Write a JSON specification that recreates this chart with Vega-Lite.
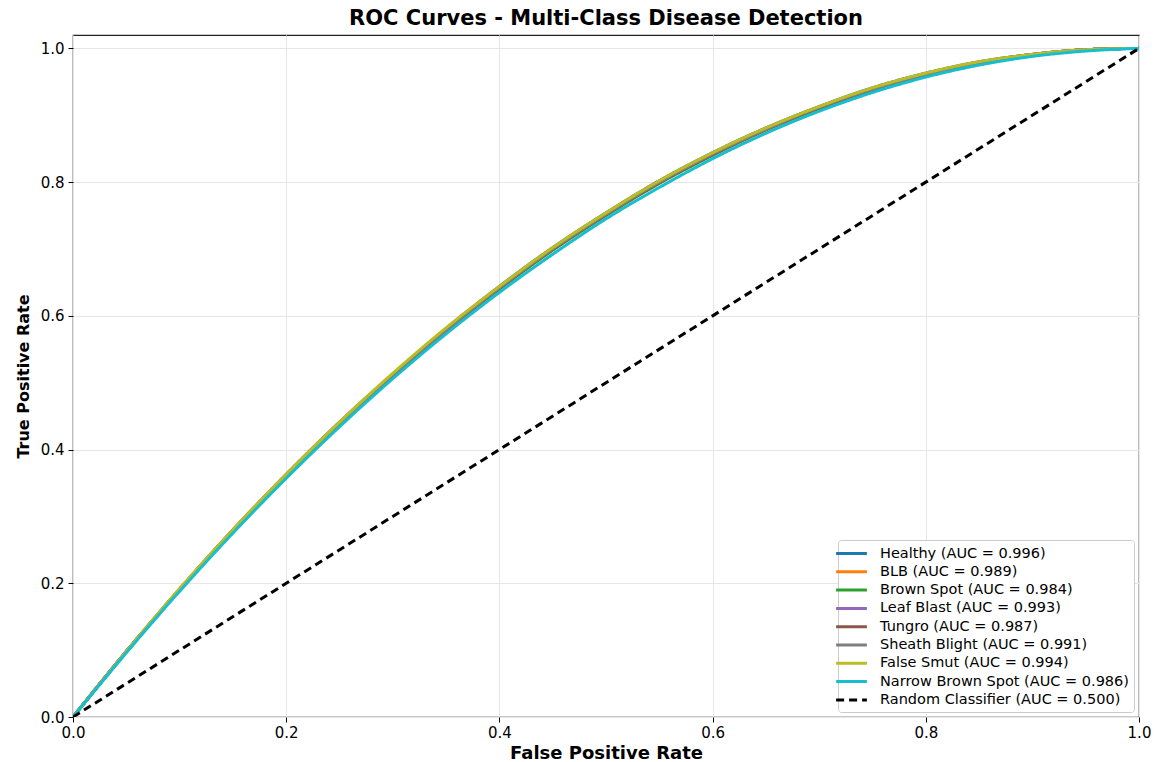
{
  "$schema": "https://vega.github.io/schema/vega-lite/v6.json",
  "width": 1066,
  "height": 682,
  "autosize": {"type": "none"},
  "padding": {"left": 73, "top": 35, "right": 16, "bottom": 45},
  "background": "white",
  "config": {
    "font": "DejaVu Sans",
    "view": {"stroke": "#222", "strokeWidth": 1.2}
  },
  "title": {"text": "ROC Curves - Multi-Class Disease Detection", "fontSize": 21, "fontWeight": "bold", "font": "DejaVu Sans", "color": "#000", "anchor": "middle", "offset": 6},
  "data": {"values": [
    {"s":"Healthy","x":0,"y":0},{"s":"Healthy","x":0.05,"y":0.098},{"s":"Healthy","x":0.1,"y":0.191},{"s":"Healthy","x":0.15,"y":0.280},{"s":"Healthy","x":0.2,"y":0.363},{"s":"Healthy","x":0.25,"y":0.441},{"s":"Healthy","x":0.3,"y":0.513},{"s":"Healthy","x":0.35,"y":0.581},{"s":"Healthy","x":0.4,"y":0.644},{"s":"Healthy","x":0.45,"y":0.702},{"s":"Healthy","x":0.5,"y":0.754},{"s":"Healthy","x":0.55,"y":0.802},{"s":"Healthy","x":0.6,"y":0.844},{"s":"Healthy","x":0.65,"y":0.881},{"s":"Healthy","x":0.7,"y":0.913},{"s":"Healthy","x":0.75,"y":0.941},{"s":"Healthy","x":0.8,"y":0.963},{"s":"Healthy","x":0.85,"y":0.980},{"s":"Healthy","x":0.9,"y":0.991},{"s":"Healthy","x":0.95,"y":0.998},{"s":"Healthy","x":1,"y":1},
    {"s":"BLB","x":0,"y":0},{"s":"BLB","x":0.05,"y":0.098},{"s":"BLB","x":0.1,"y":0.191},{"s":"BLB","x":0.15,"y":0.279},{"s":"BLB","x":0.2,"y":0.361},{"s":"BLB","x":0.25,"y":0.439},{"s":"BLB","x":0.3,"y":0.512},{"s":"BLB","x":0.35,"y":0.579},{"s":"BLB","x":0.4,"y":0.642},{"s":"BLB","x":0.45,"y":0.700},{"s":"BLB","x":0.5,"y":0.752},{"s":"BLB","x":0.55,"y":0.800},{"s":"BLB","x":0.6,"y":0.842},{"s":"BLB","x":0.65,"y":0.879},{"s":"BLB","x":0.7,"y":0.912},{"s":"BLB","x":0.75,"y":0.939},{"s":"BLB","x":0.8,"y":0.961},{"s":"BLB","x":0.85,"y":0.979},{"s":"BLB","x":0.9,"y":0.991},{"s":"BLB","x":0.95,"y":0.998},{"s":"BLB","x":1,"y":1},
    {"s":"Brown Spot","x":0,"y":0},{"s":"Brown Spot","x":0.05,"y":0.097},{"s":"Brown Spot","x":0.1,"y":0.190},{"s":"Brown Spot","x":0.15,"y":0.277},{"s":"Brown Spot","x":0.2,"y":0.360},{"s":"Brown Spot","x":0.25,"y":0.438},{"s":"Brown Spot","x":0.3,"y":0.510},{"s":"Brown Spot","x":0.35,"y":0.578},{"s":"Brown Spot","x":0.4,"y":0.640},{"s":"Brown Spot","x":0.45,"y":0.698},{"s":"Brown Spot","x":0.5,"y":0.750},{"s":"Brown Spot","x":0.55,"y":0.798},{"s":"Brown Spot","x":0.6,"y":0.840},{"s":"Brown Spot","x":0.65,"y":0.878},{"s":"Brown Spot","x":0.7,"y":0.910},{"s":"Brown Spot","x":0.75,"y":0.938},{"s":"Brown Spot","x":0.8,"y":0.960},{"s":"Brown Spot","x":0.85,"y":0.978},{"s":"Brown Spot","x":0.9,"y":0.990},{"s":"Brown Spot","x":0.95,"y":0.998},{"s":"Brown Spot","x":1,"y":1},
    {"s":"Leaf Blast","x":0,"y":0},{"s":"Leaf Blast","x":0.05,"y":0.098},{"s":"Leaf Blast","x":0.1,"y":0.191},{"s":"Leaf Blast","x":0.15,"y":0.279},{"s":"Leaf Blast","x":0.2,"y":0.362},{"s":"Leaf Blast","x":0.25,"y":0.440},{"s":"Leaf Blast","x":0.3,"y":0.512},{"s":"Leaf Blast","x":0.35,"y":0.580},{"s":"Leaf Blast","x":0.4,"y":0.643},{"s":"Leaf Blast","x":0.45,"y":0.701},{"s":"Leaf Blast","x":0.5,"y":0.753},{"s":"Leaf Blast","x":0.55,"y":0.801},{"s":"Leaf Blast","x":0.6,"y":0.843},{"s":"Leaf Blast","x":0.65,"y":0.880},{"s":"Leaf Blast","x":0.7,"y":0.912},{"s":"Leaf Blast","x":0.75,"y":0.939},{"s":"Leaf Blast","x":0.8,"y":0.962},{"s":"Leaf Blast","x":0.85,"y":0.979},{"s":"Leaf Blast","x":0.9,"y":0.991},{"s":"Leaf Blast","x":0.95,"y":0.998},{"s":"Leaf Blast","x":1,"y":1},
    {"s":"Tungro","x":0,"y":0},{"s":"Tungro","x":0.05,"y":0.098},{"s":"Tungro","x":0.1,"y":0.190},{"s":"Tungro","x":0.15,"y":0.278},{"s":"Tungro","x":0.2,"y":0.361},{"s":"Tungro","x":0.25,"y":0.438},{"s":"Tungro","x":0.3,"y":0.511},{"s":"Tungro","x":0.35,"y":0.578},{"s":"Tungro","x":0.4,"y":0.641},{"s":"Tungro","x":0.45,"y":0.699},{"s":"Tungro","x":0.5,"y":0.751},{"s":"Tungro","x":0.55,"y":0.799},{"s":"Tungro","x":0.6,"y":0.841},{"s":"Tungro","x":0.65,"y":0.878},{"s":"Tungro","x":0.7,"y":0.911},{"s":"Tungro","x":0.75,"y":0.938},{"s":"Tungro","x":0.8,"y":0.961},{"s":"Tungro","x":0.85,"y":0.978},{"s":"Tungro","x":0.9,"y":0.990},{"s":"Tungro","x":0.95,"y":0.998},{"s":"Tungro","x":1,"y":1},
    {"s":"Sheath Blight","x":0,"y":0},{"s":"Sheath Blight","x":0.05,"y":0.098},{"s":"Sheath Blight","x":0.1,"y":0.191},{"s":"Sheath Blight","x":0.15,"y":0.279},{"s":"Sheath Blight","x":0.2,"y":0.361},{"s":"Sheath Blight","x":0.25,"y":0.439},{"s":"Sheath Blight","x":0.3,"y":0.512},{"s":"Sheath Blight","x":0.35,"y":0.579},{"s":"Sheath Blight","x":0.4,"y":0.642},{"s":"Sheath Blight","x":0.45,"y":0.700},{"s":"Sheath Blight","x":0.5,"y":0.752},{"s":"Sheath Blight","x":0.55,"y":0.800},{"s":"Sheath Blight","x":0.6,"y":0.842},{"s":"Sheath Blight","x":0.65,"y":0.879},{"s":"Sheath Blight","x":0.7,"y":0.912},{"s":"Sheath Blight","x":0.75,"y":0.939},{"s":"Sheath Blight","x":0.8,"y":0.961},{"s":"Sheath Blight","x":0.85,"y":0.979},{"s":"Sheath Blight","x":0.9,"y":0.991},{"s":"Sheath Blight","x":0.95,"y":0.998},{"s":"Sheath Blight","x":1,"y":1},
    {"s":"False Smut","x":0,"y":0},{"s":"False Smut","x":0.05,"y":0.098},{"s":"False Smut","x":0.1,"y":0.192},{"s":"False Smut","x":0.15,"y":0.280},{"s":"False Smut","x":0.2,"y":0.363},{"s":"False Smut","x":0.25,"y":0.441},{"s":"False Smut","x":0.3,"y":0.514},{"s":"False Smut","x":0.35,"y":0.582},{"s":"False Smut","x":0.4,"y":0.644},{"s":"False Smut","x":0.45,"y":0.702},{"s":"False Smut","x":0.5,"y":0.754},{"s":"False Smut","x":0.55,"y":0.802},{"s":"False Smut","x":0.6,"y":0.844},{"s":"False Smut","x":0.65,"y":0.881},{"s":"False Smut","x":0.7,"y":0.913},{"s":"False Smut","x":0.75,"y":0.941},{"s":"False Smut","x":0.8,"y":0.963},{"s":"False Smut","x":0.85,"y":0.980},{"s":"False Smut","x":0.9,"y":0.991},{"s":"False Smut","x":0.95,"y":0.998},{"s":"False Smut","x":1,"y":1},
    {"s":"Narrow Brown Spot","x":0,"y":0},{"s":"Narrow Brown Spot","x":0.05,"y":0.096},{"s":"Narrow Brown Spot","x":0.1,"y":0.188},{"s":"Narrow Brown Spot","x":0.15,"y":0.275},{"s":"Narrow Brown Spot","x":0.2,"y":0.357},{"s":"Narrow Brown Spot","x":0.25,"y":0.434},{"s":"Narrow Brown Spot","x":0.3,"y":0.506},{"s":"Narrow Brown Spot","x":0.35,"y":0.573},{"s":"Narrow Brown Spot","x":0.4,"y":0.635},{"s":"Narrow Brown Spot","x":0.45,"y":0.692},{"s":"Narrow Brown Spot","x":0.5,"y":0.745},{"s":"Narrow Brown Spot","x":0.55,"y":0.792},{"s":"Narrow Brown Spot","x":0.6,"y":0.835},{"s":"Narrow Brown Spot","x":0.65,"y":0.873},{"s":"Narrow Brown Spot","x":0.7,"y":0.906},{"s":"Narrow Brown Spot","x":0.75,"y":0.934},{"s":"Narrow Brown Spot","x":0.8,"y":0.957},{"s":"Narrow Brown Spot","x":0.85,"y":0.975},{"s":"Narrow Brown Spot","x":0.9,"y":0.988},{"s":"Narrow Brown Spot","x":0.95,"y":0.996},{"s":"Narrow Brown Spot","x":1,"y":1},
    {"s":"Random Classifier","x":0,"y":0},{"s":"Random Classifier","x":1,"y":1}
  ]},
  "transform": [
    {"lookup": "s", "from": {"data": {"values": [
      {"s":"Healthy","label":"Healthy (AUC = 0.996)"},
      {"s":"BLB","label":"BLB (AUC = 0.989)"},
      {"s":"Brown Spot","label":"Brown Spot (AUC = 0.984)"},
      {"s":"Leaf Blast","label":"Leaf Blast (AUC = 0.993)"},
      {"s":"Tungro","label":"Tungro (AUC = 0.987)"},
      {"s":"Sheath Blight","label":"Sheath Blight (AUC = 0.991)"},
      {"s":"False Smut","label":"False Smut (AUC = 0.994)"},
      {"s":"Narrow Brown Spot","label":"Narrow Brown Spot (AUC = 0.986)"},
      {"s":"Random Classifier","label":"Random Classifier (AUC = 0.500)"}
    ]}, "key": "s", "fields": ["label"]}}
  ],
  "mark": {"type": "line", "strokeWidth": 3, "interpolate": "monotone", "clip": true},
  "encoding": {
    "x": {"field": "x", "type": "quantitative",
      "scale": {"domain": [0, 1], "nice": false, "zero": false},
      "axis": {"title": "False Positive Rate", "titleFontSize": 18, "titleFontWeight": "bold", "titleColor": "#000", "titlePadding": 4,
        "values": [0, 0.2, 0.4, 0.6, 0.8, 1.0], "format": ".1f", "labelFontSize": 15, "labelColor": "#000", "labelPadding": 3,
        "tickColor": "#000", "tickSize": 5, "domain": false, "gridColor": "#e6e6e6", "gridWidth": 1, "labelFlush": false}},
    "y": {"field": "y", "type": "quantitative",
      "scale": {"domain": [0, 1.02], "nice": false, "zero": false},
      "axis": {"title": "True Positive Rate", "titleFontSize": 16, "titleFontWeight": "bold", "titleColor": "#000", "titlePadding": 9,
        "values": [0, 0.2, 0.4, 0.6, 0.8, 1.0], "format": ".1f", "labelFontSize": 15, "labelColor": "#000", "labelPadding": 4,
        "tickColor": "#000", "tickSize": 5, "domain": false, "gridColor": "#e6e6e6", "gridWidth": 1, "labelFlush": false}},
    "color": {"field": "label", "type": "nominal",
      "scale": {"domain": ["Healthy (AUC = 0.996)", "BLB (AUC = 0.989)", "Brown Spot (AUC = 0.984)", "Leaf Blast (AUC = 0.993)", "Tungro (AUC = 0.987)", "Sheath Blight (AUC = 0.991)", "False Smut (AUC = 0.994)", "Narrow Brown Spot (AUC = 0.986)", "Random Classifier (AUC = 0.500)"],
        "range": ["#1f77b4", "#ff7f0e", "#2ca02c", "#9467bd", "#8c564b", "#7f7f7f", "#bcbd22", "#17becf", "#000000"]},
      "legend": {"title": null, "orient": "bottom-right", "offset": 5, "fillColor": "white", "strokeColor": "#cccccc", "cornerRadius": 3, "padding": 5,
        "labelFontSize": 14.5, "labelColor": "#000", "symbolType": "M-2.2,0H2.2", "symbolSize": 196, "symbolStrokeWidth": 3, "labelOffset": 20, "rowPadding": 3.3, "labelLimit": 400}},
    "strokeDash": {"field": "label", "type": "nominal",
      "scale": {"domain": ["Healthy (AUC = 0.996)", "BLB (AUC = 0.989)", "Brown Spot (AUC = 0.984)", "Leaf Blast (AUC = 0.993)", "Tungro (AUC = 0.987)", "Sheath Blight (AUC = 0.991)", "False Smut (AUC = 0.994)", "Narrow Brown Spot (AUC = 0.986)", "Random Classifier (AUC = 0.500)"],
        "range": [[1, 0], [1, 0], [1, 0], [1, 0], [1, 0], [1, 0], [1, 0], [1, 0], [8, 5]]},
      "legend": {"title": null}}
  }
}
